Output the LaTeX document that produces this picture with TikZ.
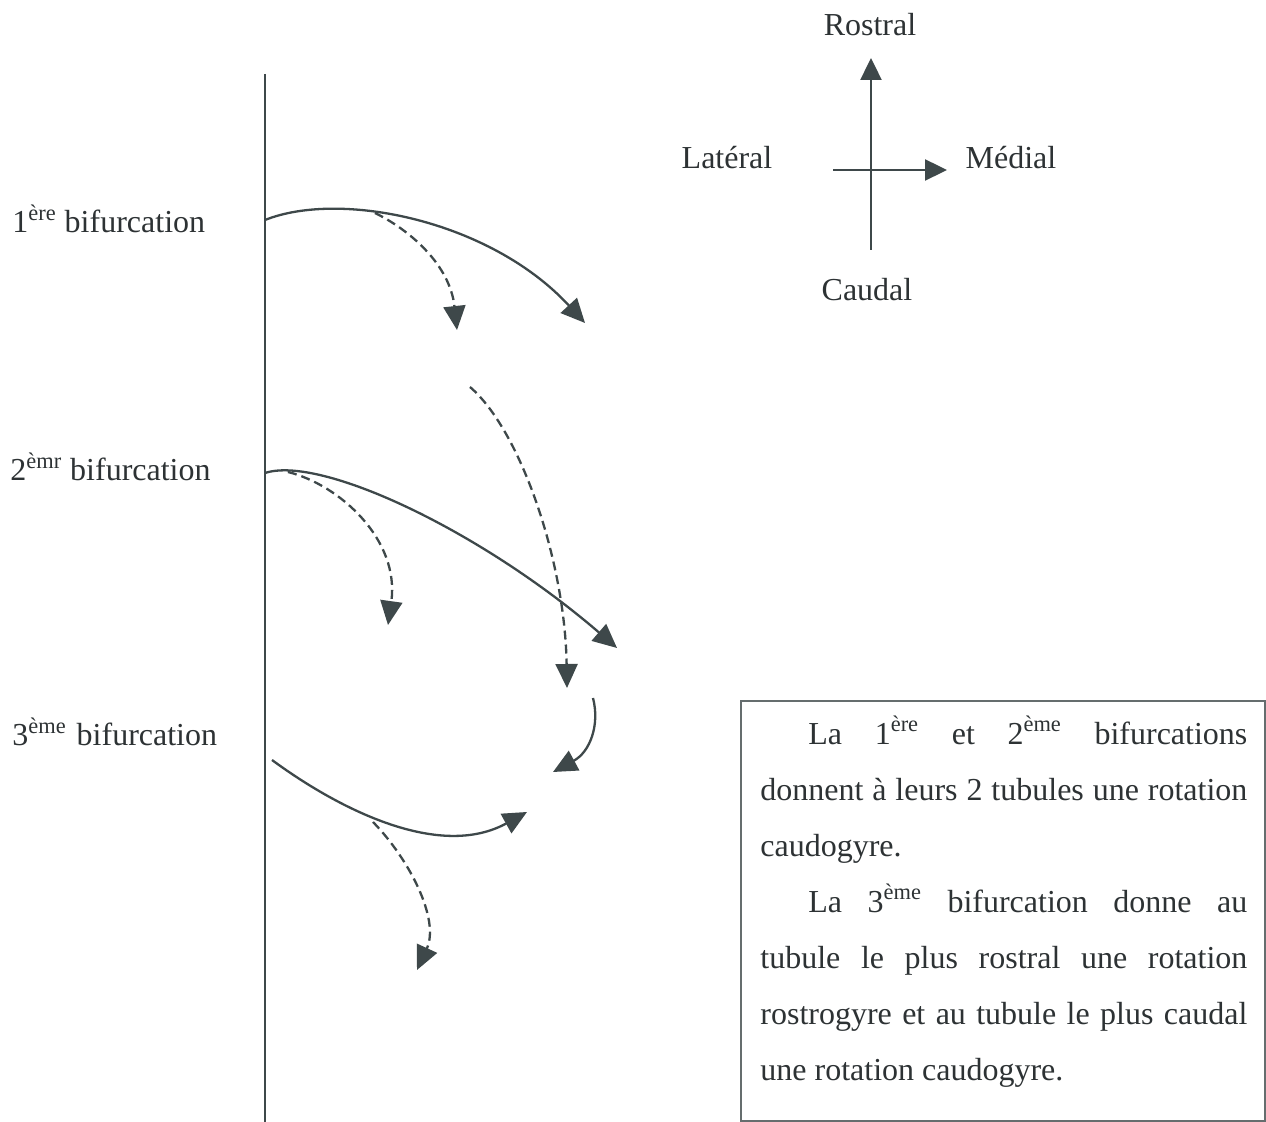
\documentclass[tikz,border=0pt]{standalone}
\usepackage{fontspec}
\setmainfont{Liberation Serif}
\usetikzlibrary{arrows.meta}
\definecolor{ink}{RGB}{62,72,74}
\definecolor{txt}{RGB}{45,50,52}
\begin{document}
\begin{tikzpicture}[x=0.5pt,y=-0.5pt,
  lbl/.style={font=\fontsize{16}{19}\selectfont, text=txt, inner sep=0},
  curve/.style={draw=ink, line width=1.15pt, -{Triangle[length=12pt,width=11pt]}, fill=none},
  dcurve/.style={curve, dash pattern=on 4.5pt off 2.5pt},
  axis/.style={draw=ink, line width=1.2pt}]
\useasboundingbox (0,0) rectangle (1266,1122);
% main vertical line
\coordinate (vtop) at (265,74);
\coordinate (vbot) at (265,1122);
\draw[ink, line width=1.2pt] (vtop) -- (vbot);
% left labels
\node[lbl, anchor=base west] (b1) at (12,233) {1\textsuperscript{ère} bifurcation};
\node[lbl, anchor=base west] (b2) at (10,481) {2\textsuperscript{èmr} bifurcation};
\node[lbl, anchor=base west] (b3) at (12,746) {3\textsuperscript{ème}\hspace{5pt}bifurcation};
% compass
\coordinate (cbot) at (871,250);
\coordinate (ctop) at (871,58);
\coordinate (cleft) at (833,170);
\coordinate (cright) at (947,170);
\draw[axis, -{Triangle[length=11pt,width=10.5pt]}] (cbot) -- (ctop);
\draw[axis, -{Triangle[length=11pt,width=10.5pt]}] (cleft) -- (cright);
\node[lbl, anchor=base] (rostral) at (870,36) {Rostral};
\node[lbl, anchor=base] (lateral) at (727,169) {Latéral};
\node[lbl, anchor=base] (medial) at (1011,169) {Médial};
\node[lbl, anchor=base] (caudal) at (867,301) {Caudal};
% curves, first bifurcation
\coordinate (s1) at (265,220);
\coordinate (e1) at (585,323);
\draw[curve] (s1) .. controls (340,190) and (490,220) .. (e1);
\coordinate (s1d) at (375,213);
\coordinate (e1d) at (457,330);
\draw[dcurve] (s1d) .. controls (410,230) and (450,265) .. (e1d);
% second bifurcation
\coordinate (s2) at (265,473);
\coordinate (e2) at (617,648);
\draw[curve] (s2) .. controls (320,455) and (480,530) .. (e2);
\coordinate (s2d) at (288,472);
\coordinate (e2d) at (388,625);
\draw[dcurve] (s2d) .. controls (340,485) and (400,540) .. (e2d);
\coordinate (s3d) at (470,387);
\coordinate (e3d) at (567,688);
\draw[dcurve] (s3d) .. controls (520,430) and (565,560) .. (e3d);
\coordinate (s4) at (593,698);
\coordinate (e4) at (553,772);
\draw[curve] (s4) .. controls (600,725) and (590,752) .. (e4);
% third bifurcation
\coordinate (s3) at (272,760);
\coordinate (e3) at (527,812);
\draw[curve] (s3) .. controls (340,810) and (440,860) .. (e3);
\coordinate (s5d) at (373,822);
\coordinate (e5d) at (417,970);
\draw[dcurve] (s5d) .. controls (410,860) and (440,920) .. (e5d);
% text box
\node[draw=ink!80, line width=0.8pt, anchor=north west, minimum width=262pt, minimum height=210pt, inner sep=0] (box) at (740,700) {};
\node[lbl, anchor=north west, text width=243.5pt, align=justify, font=\fontsize{16}{28}\selectfont] (boxtext) at (760,716)
{\hbadness=10000\tolerance=10000%
\hspace*{24pt}La 1\textsuperscript{ère} et 2\textsuperscript{ème} bifurcations\linebreak
donnent à leurs 2 tubules une rotation\linebreak
caudogyre.\par
\hspace*{24pt}La 3\textsuperscript{ème} bifurcation donne au\linebreak
tubule le plus rostral une rotation\linebreak
rostrogyre et au tubule le plus caudal\linebreak
une rotation caudogyre.};
\end{tikzpicture}
\end{document}
